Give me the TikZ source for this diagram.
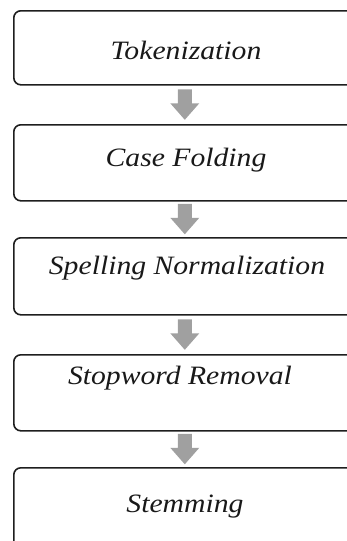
\documentclass[tikz,border=0pt]{standalone}
\usepackage{fontspec}
\setmainfont[FakeStretch=1.12]{Liberation Serif}
\usetikzlibrary{calc}
\definecolor{arrowgray}{HTML}{A0A0A0}
\definecolor{boxline}{HTML}{1E1E1E}
\tikzset{
  stepbox/.style={draw=boxline, line width=1.6pt, rounded corners=7pt, minimum width=346pt, inner sep=0pt, anchor=north west},
  steplabel/.style={font=\itshape\fontsize{26.5}{30}\selectfont, inner sep=0pt, text=black!90}
}
\begin{document}
\begin{tikzpicture}[x=1pt,y=-1pt]
\useasboundingbox (0,0) rectangle (347,541);
\clip (0,0) rectangle (347,541);
\node[stepbox, minimum height=74pt] (b1) at (13,10) {};
\node[stepbox, minimum height=76pt] (b2) at (13,124) {};
\node[stepbox, minimum height=77pt] (b3) at (13,237) {};
\node[stepbox, minimum height=76pt] (b4) at (13,354) {};
\node[stepbox, minimum height=80pt] (b5) at (13,467) {};
\node[steplabel] (t1) at (186,50) {Tokenization};
\node[steplabel] (t2) at (186,160) {Case Folding};
\node[steplabel] (t3) at (187,268) {Spelling Normalization};
\node[steplabel] (t4) at (180,378) {Stopword Removal};
\node[steplabel] (t5) at (185,507) {Stemming};
\foreach \a/\b in {b1/b2,b2/b3,b3/b4,b4/b5}{
  \coordinate (m) at ($(\a.south)!0.5!(\b.north)+(-2,0)$);
  \fill[arrowgray, shift={(m)}] (-7,-15.5) -- (7,-15.5) -- (7,-1.5) -- (14.5,-1.5) -- (0,15) -- (-14.5,-1.5) -- (-7,-1.5) -- cycle;
}
\end{tikzpicture}
\end{document}
